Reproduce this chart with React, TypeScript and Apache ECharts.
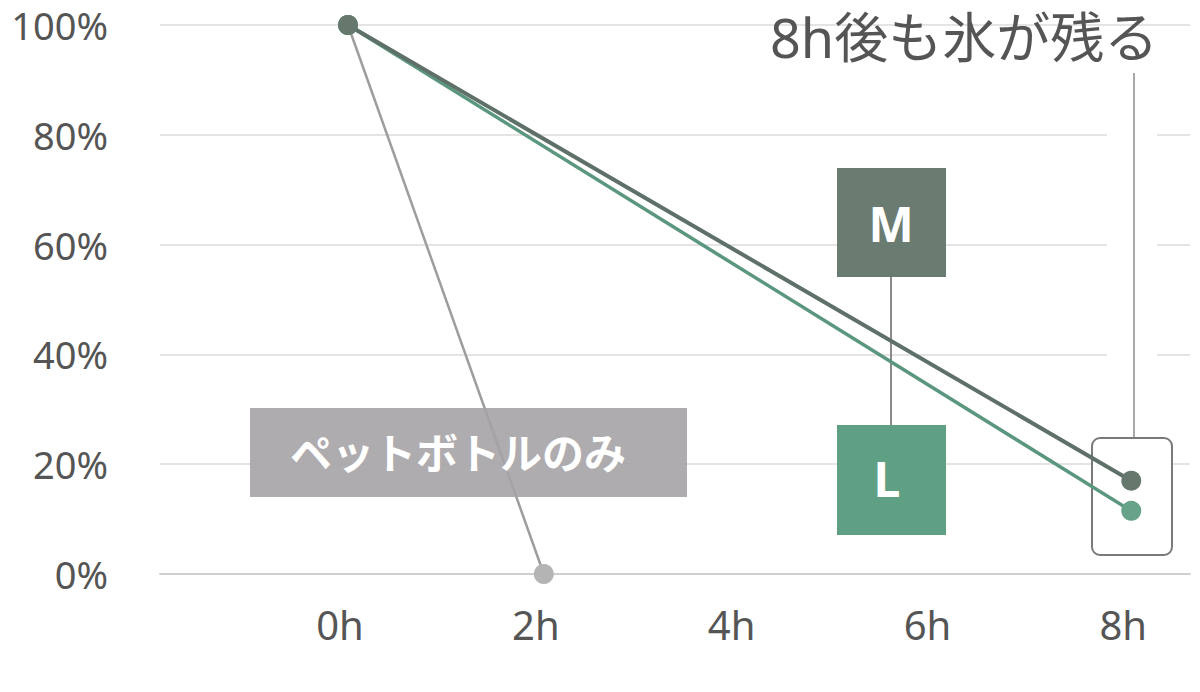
import React, { useEffect, useRef } from 'react';
import * as echarts from 'echarts';

// 経過時間(h)と氷の残量(%)
const hours = [0, 2, 4, 6, 8];
const petOnly = [[0, 100], [2, 0]];
const sizeL = [[0, 100], [8, 11.5]];
const sizeM = [[0, 100], [8, 17]];
const yTicks = [0, 20, 40, 60, 80, 100];

const FONT = '"Noto Sans", "Noto Sans CJK JP", sans-serif';

const App: React.FC = () => {
  const chartRef = useRef<HTMLDivElement>(null);

  useEffect(() => {
    if (!chartRef.current) return;
    const chart = echarts.init(chartRef.current, null, { renderer: 'svg' });

    const option = {
      animation: false,
      backgroundColor: '#fff',
      textStyle: { fontFamily: FONT },
      grid: { left: 160, right: 10, top: 25, bottom: 118 },
      xAxis: {
        type: 'value',
        min: -1.92,
        max: 8.6,
        splitLine: { show: false },
        axisTick: { show: false },
        axisLine: { show: true, lineStyle: { color: '#cfcfcf', width: 2 } },
        axisLabel: {
          customValues: hours,
          formatter: (v: number) => `${v}h`,
          fontSize: 40,
          color: '#555',
          margin: 30,
          padding: [0, 16, 0, 0],
          fontFamily: FONT,
        },
      },
      yAxis: {
        type: 'value',
        min: yTicks[0],
        max: yTicks[yTicks.length - 1],
        interval: 20,
        axisLine: { show: false },
        axisTick: { show: false },
        splitLine: { lineStyle: { color: '#e4e4e4', width: 2 } },
        axisLabel: {
          formatter: '{value}%',
          fontSize: 38,
          color: '#555',
          margin: 52,
          fontFamily: FONT,
        },
      },
      graphic: [
        // 8h の縦線まわりの白い帯
        { type: 'rect', z: 1, shape: { x: 1107, y: 70, width: 50, height: 370 }, style: { fill: '#fff' } },
        { type: 'line', z: 1, shape: { x1: 1134, y1: 73, x2: 1134, y2: 438 }, style: { stroke: '#a8a8a8', lineWidth: 2 } },
        { type: 'rect', z: 1, shape: { x: 1092, y: 438, width: 80, height: 117, r: 8 }, style: { fill: '#fff', stroke: '#7a7a7a', lineWidth: 2 } },
        {
          type: 'text', z: 5, x: 964, y: 37,
          style: { text: '8h後も氷が残る', font: `54px ${FONT}`, fill: '#555', align: 'center', verticalAlign: 'middle' },
        },
        // M / L ラベル
        { type: 'line', z: 1, shape: { x1: 891, y1: 277, x2: 891, y2: 425 }, style: { stroke: '#8a8a8a', lineWidth: 2 } },
        { type: 'rect', z: 1, shape: { x: 837, y: 168, width: 109, height: 109 }, style: { fill: '#6a7c71' } },
        {
          type: 'text', z: 5, x: 891, y: 223,
          style: { text: 'M', font: `bold 48px ${FONT}`, fill: '#fff', align: 'center', verticalAlign: 'middle' },
        },
        { type: 'rect', z: 1, shape: { x: 837, y: 425, width: 109, height: 110 }, style: { fill: '#5fa085' } },
        {
          type: 'text', z: 5, x: 887, y: 478,
          style: { text: 'L', font: `bold 48px ${FONT}`, fill: '#fff', align: 'center', verticalAlign: 'middle' },
        },
        // ペットボトルのみ
        { type: 'rect', z: 5, shape: { x: 250, y: 408, width: 437, height: 89 }, style: { fill: 'rgba(166,163,166,0.9)' } },
        {
          type: 'text', z: 6, x: 458, y: 452,
          style: { text: 'ペットボトルのみ', font: `bold 42px ${FONT}`, fill: '#fff', align: 'center', verticalAlign: 'middle' },
        },
      ],
      series: [
        {
          name: 'ペットボトルのみ',
          type: 'line',
          data: petOnly,
          symbol: 'circle',
          symbolSize: 20,
          lineStyle: { color: '#9d9d9d', width: 2.5 },
          itemStyle: { color: '#b4b4b4' },
          z: 3,
        },
        {
          name: 'L',
          type: 'line',
          data: sizeL,
          symbol: 'circle',
          symbolSize: 20,
          lineStyle: { color: '#5b967e', width: 3.5 },
          itemStyle: { color: '#66a389' },
          z: 3,
        },
        {
          name: 'M',
          type: 'line',
          data: sizeM,
          symbol: 'circle',
          symbolSize: 20,
          lineStyle: { color: '#5e7067', width: 4 },
          itemStyle: { color: '#66786e' },
          z: 4,
        },
      ],
    };

    chart.setOption(option);
    return () => {
      chart.dispose();
    };
  }, []);

  return (
    <div
      ref={chartRef}
      style={{ position: 'absolute', left: 0, top: 0, width: '1200px', height: '692px' }}
    />
  );
};

export default App;
